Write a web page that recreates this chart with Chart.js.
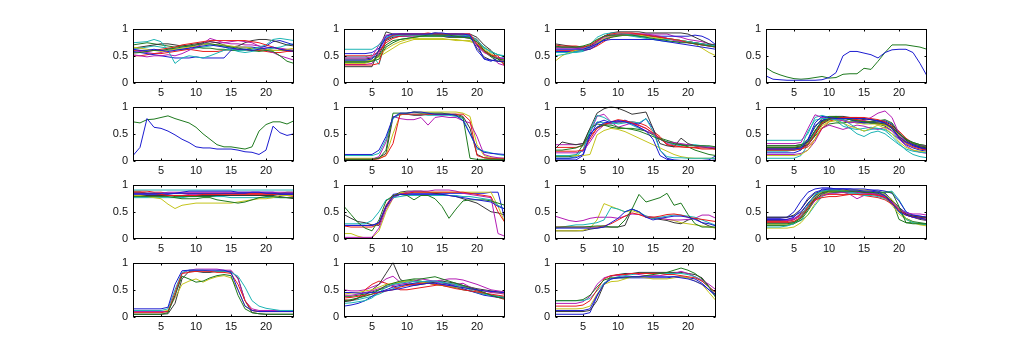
<!DOCTYPE html>
<html><head><meta charset="utf-8">
<script src="https://cdn.jsdelivr.net/npm/chart.js@4/dist/chart.umd.min.js"></script>
<style>html,body{margin:0;padding:0;background:#fff;width:1024px;height:357px;overflow:hidden}canvas{position:absolute}</style>
</head><body>
<script>
const hours=[1,2,3,4,5,6,7,8,9,10,11,12,13,14,15,16,17,18,19,20,21,22,23,24];
const xTicks=[5,10,15,20];
const yTicks=[0,0.5,1];
const lineColors=['#1c1cd0','#1f7a1f','#e81c1c','#1cb4b4','#b41cb4','#c4c41c','#383838'];

const p1=[
[.62,.6,.6,.62,.6,.58,.6,.62,.64,.66,.68,.7,.68,.66,.64,.62,.62,.6,.62,.64,.66,.62,.6,.58],
[.55,.56,.58,.6,.6,.62,.64,.66,.68,.7,.72,.72,.7,.68,.66,.64,.62,.6,.58,.6,.58,.5,.4,.36],
[.6,.6,.58,.6,.62,.64,.66,.7,.72,.74,.76,.78,.78,.78,.78,.78,.78,.76,.74,.7,.66,.62,.6,.58],
[.74,.75,.76,.8,.76,.6,.36,.46,.5,.48,.46,.5,.55,.6,.62,.6,.6,.62,.66,.7,.8,.82,.8,.78],
[.52,.5,.48,.5,.5,.52,.5,.54,.6,.66,.72,.82,.78,.74,.76,.78,.76,.74,.68,.6,.56,.5,.46,.42],
[.66,.64,.62,.6,.58,.6,.62,.64,.66,.68,.7,.72,.7,.7,.68,.66,.66,.64,.62,.62,.6,.6,.62,.64],
[.64,.66,.68,.7,.72,.72,.7,.68,.7,.72,.74,.76,.74,.7,.66,.68,.74,.78,.8,.8,.78,.74,.7,.68],
[.58,.56,.54,.52,.5,.48,.46,.46,.46,.48,.46,.46,.46,.46,.6,.66,.66,.66,.64,.68,.76,.78,.74,.7],
[.7,.72,.74,.72,.7,.68,.66,.68,.68,.66,.64,.64,.62,.62,.6,.6,.62,.64,.64,.62,.6,.6,.6,.6],
[.5,.5,.52,.54,.54,.56,.58,.6,.62,.6,.58,.58,.58,.6,.62,.62,.6,.6,.6,.58,.56,.56,.58,.58],
[.62,.64,.66,.68,.66,.64,.62,.62,.62,.64,.66,.68,.7,.66,.62,.58,.56,.58,.6,.62,.64,.66,.7,.72],
[.56,.58,.56,.54,.56,.6,.62,.62,.64,.7,.74,.76,.74,.74,.72,.72,.7,.7,.68,.66,.64,.64,.62,.6]];

const p2=[
[.42,.42,.42,.42,.44,.6,.86,.9,.9,.9,.9,.9,.9,.92,.92,.9,.9,.9,.88,.6,.45,.42,.4,.4],
[.38,.38,.38,.38,.4,.5,.7,.78,.8,.82,.84,.86,.88,.88,.88,.88,.86,.84,.82,.76,.6,.5,.44,.42],
[.33,.33,.33,.33,.33,.36,.8,.88,.9,.9,.9,.9,.92,.9,.9,.9,.9,.9,.9,.72,.58,.5,.5,.3],
[.62,.62,.62,.62,.62,.7,.84,.88,.88,.88,.88,.88,.88,.88,.88,.88,.88,.88,.86,.8,.64,.58,.52,.5],
[.46,.46,.46,.46,.48,.7,.88,.9,.9,.9,.9,.9,.9,.9,.9,.9,.9,.9,.9,.68,.56,.5,.46,.44],
[.36,.36,.36,.36,.4,.5,.62,.7,.76,.8,.82,.82,.82,.82,.82,.8,.8,.78,.78,.72,.62,.54,.46,.4],
[.3,.3,.3,.3,.3,.62,.94,.9,.9,.9,.9,.9,.9,.92,.9,.9,.9,.9,.9,.84,.7,.6,.44,.34],
[.54,.54,.54,.54,.56,.64,.82,.88,.9,.9,.9,.9,.9,.9,.88,.86,.86,.86,.86,.72,.44,.4,.46,.46],
[.4,.4,.4,.4,.4,.44,.66,.74,.8,.82,.84,.86,.86,.86,.86,.84,.84,.84,.84,.7,.58,.48,.4,.38],
[.5,.5,.5,.5,.5,.58,.74,.82,.86,.88,.88,.88,.88,.88,.88,.88,.88,.88,.86,.8,.6,.52,.46,.44],
[.48,.48,.48,.48,.52,.34,.8,.86,.88,.88,.88,.86,.86,.86,.86,.86,.86,.86,.84,.78,.66,.56,.52,.48],
[.34,.34,.34,.34,.36,.56,.8,.86,.86,.86,.86,.88,.88,.88,.86,.84,.84,.84,.82,.7,.6,.52,.36,.32],
[.4,.4,.4,.4,.42,.48,.56,.64,.72,.76,.8,.8,.8,.8,.8,.8,.78,.78,.76,.72,.66,.58,.52,.48],
[.44,.44,.44,.44,.46,.52,.78,.84,.86,.86,.88,.88,.88,.9,.9,.9,.9,.88,.86,.64,.48,.42,.4,.4]];

const p3=[
[.62,.62,.62,.62,.62,.66,.72,.78,.8,.8,.8,.8,.8,.8,.8,.78,.76,.74,.72,.7,.68,.66,.64,.62],
[.68,.66,.66,.66,.68,.72,.8,.86,.88,.88,.88,.88,.86,.84,.82,.8,.78,.76,.74,.74,.72,.7,.68,.66],
[.7,.68,.68,.68,.66,.7,.78,.86,.9,.92,.92,.92,.9,.88,.86,.84,.82,.8,.78,.74,.72,.7,.68,.66],
[.5,.52,.54,.58,.6,.7,.84,.9,.92,.92,.9,.88,.86,.84,.8,.8,.8,.8,.78,.76,.74,.72,.7,.68],
[.64,.64,.64,.64,.64,.66,.76,.84,.88,.9,.9,.9,.9,.9,.88,.86,.82,.78,.76,.74,.72,.7,.68,.66],
[.4,.5,.56,.6,.62,.66,.74,.82,.86,.88,.88,.88,.88,.86,.84,.82,.8,.8,.78,.76,.72,.64,.56,.5],
[.72,.7,.68,.66,.66,.68,.76,.86,.92,.94,.94,.94,.94,.92,.92,.92,.92,.92,.92,.9,.84,.78,.72,.68],
[.58,.58,.58,.58,.6,.62,.7,.8,.86,.88,.88,.88,.86,.86,.86,.86,.86,.86,.86,.86,.88,.86,.8,.7],
[.66,.66,.66,.66,.66,.68,.74,.8,.84,.86,.88,.88,.88,.88,.86,.84,.82,.8,.78,.76,.74,.72,.7,.7],
[.6,.6,.6,.6,.6,.62,.68,.76,.84,.88,.9,.9,.9,.88,.86,.84,.82,.8,.78,.76,.74,.72,.7,.68],
[.56,.56,.56,.56,.58,.64,.78,.86,.88,.88,.88,.86,.84,.82,.8,.78,.76,.76,.76,.76,.74,.72,.7,.68],
[.66,.66,.66,.64,.62,.64,.72,.8,.86,.88,.88,.9,.9,.9,.9,.9,.9,.86,.84,.8,.78,.76,.72,.7]];

const p4=[
[.13,.07,.06,.05,.05,.05,.05,.05,.06,.1,.19,.5,.58,.58,.55,.52,.46,.56,.61,.62,.62,.56,.36,.13],
[.28,.2,.15,.11,.08,.07,.08,.1,.12,.09,.1,.16,.17,.17,.27,.25,.4,.56,.7,.7,.7,.68,.66,.62]];

const p5=[
[.1,.25,.78,.62,.6,.55,.48,.4,.34,.26,.24,.24,.22,.22,.22,.2,.17,.16,.12,.2,.64,.52,.47,.5],
[.72,.7,.76,.77,.8,.83,.78,.74,.7,.62,.5,.4,.3,.26,.26,.24,.22,.26,.55,.67,.72,.72,.68,.74]];

const p6=[
[.12,.12,.12,.12,.12,.2,.45,.8,.88,.88,.9,.9,.88,.86,.86,.86,.84,.74,.5,.25,.16,.14,.13,.12],
[.03,.03,.03,.03,.03,.05,.2,.88,.88,.88,.9,.88,.88,.88,.88,.86,.84,.8,.05,.03,.03,.03,.03,.03],
[.02,.02,.02,.02,.02,.04,.1,.32,.86,.86,.86,.86,.86,.86,.86,.86,.86,.86,.74,.1,.06,.04,.04,.04],
[.1,.1,.1,.1,.1,.14,.4,.78,.86,.86,.86,.86,.84,.84,.84,.84,.82,.78,.5,.22,.18,.15,.12,.1],
[.03,.03,.03,.03,.03,.08,.35,.82,.78,.76,.76,.8,.66,.8,.82,.8,.8,.74,.7,.45,.12,.08,.06,.05],
[.05,.05,.05,.05,.05,.05,.1,.5,.84,.88,.9,.9,.9,.9,.9,.9,.9,.88,.82,.3,.1,.06,.05,.05],
[.04,.04,.04,.04,.04,.06,.14,.8,.86,.86,.84,.84,.86,.86,.86,.86,.86,.82,.6,.12,.06,.05,.04,.04]];

const p7=[
[.05,.05,.05,.06,.12,.5,.62,.7,.72,.74,.72,.68,.62,.55,.4,.1,.03,.01,.01,.01,.01,.01,.01,.02],
[.2,.2,.22,.24,.3,.5,.62,.66,.66,.62,.6,.58,.55,.5,.45,.4,.35,.32,.3,.28,.28,.28,.28,.26],
[.18,.18,.18,.18,.2,.4,.6,.66,.72,.76,.74,.7,.65,.6,.52,.42,.3,.28,.26,.25,.24,.22,.22,.22],
[.1,.1,.1,.12,.2,.56,.84,.8,.72,.68,.7,.72,.7,.78,.55,.2,.08,.06,.06,.05,.05,.05,.05,.05],
[.15,.15,.15,.15,.18,.35,.55,.66,.7,.74,.72,.7,.62,.55,.5,.4,.35,.34,.32,.3,.28,.26,.25,.24],
[.1,.1,.1,.1,.1,.12,.48,.56,.6,.58,.54,.48,.42,.36,.3,.24,.18,.12,.08,.06,.05,.05,.05,.05],
[.22,.35,.32,.3,.32,.6,.88,.96,1,.97,.92,.86,.88,.9,.6,.32,.28,.26,.42,.32,.28,.26,.24,.22],
[.02,.02,.02,.02,.1,.45,.7,.75,.7,.72,.75,.7,.68,.78,.6,.2,.05,.02,.01,.01,.01,.01,.02,.1],
[.08,.08,.08,.1,.3,.6,.68,.66,.62,.6,.6,.6,.58,.55,.48,.42,.38,.34,.3,.26,.2,.16,.12,.1],
[.25,.25,.25,.25,.28,.45,.6,.68,.7,.72,.72,.72,.7,.65,.55,.45,.3,.26,.26,.25,.25,.24,.24,.22],
[.05,.05,.05,.08,.2,.55,.72,.7,.68,.7,.72,.66,.6,.55,.5,.4,.35,.3,.28,.3,.3,.28,.26,.24],
[.3,.3,.3,.3,.32,.5,.82,.86,.72,.62,.66,.7,.66,.6,.5,.4,.32,.3,.3,.3,.28,.28,.26,.25]];

const p8=[
[.22,.22,.22,.22,.22,.24,.4,.7,.82,.8,.78,.78,.78,.78,.78,.76,.74,.7,.6,.45,.35,.3,.25,.22],
[.25,.25,.25,.25,.25,.28,.35,.55,.72,.78,.8,.78,.76,.74,.72,.7,.7,.68,.62,.5,.4,.32,.28,.25],
[.2,.2,.2,.2,.2,.22,.3,.5,.7,.78,.8,.8,.8,.8,.8,.78,.76,.72,.62,.45,.32,.26,.22,.2],
[.18,.18,.18,.18,.2,.24,.55,.75,.78,.78,.76,.7,.6,.5,.45,.52,.55,.5,.4,.3,.22,.18,.16,.15],
[.32,.32,.32,.32,.32,.34,.6,.85,.8,.78,.76,.74,.7,.72,.74,.8,.88,.92,.8,.5,.35,.3,.28,.27],
[.1,.1,.1,.1,.1,.12,.2,.4,.65,.72,.74,.7,.64,.6,.55,.6,.66,.6,.5,.35,.25,.2,.18,.16],
[.24,.24,.24,.24,.24,.26,.3,.48,.68,.76,.78,.8,.8,.8,.78,.76,.74,.72,.66,.52,.38,.3,.26,.24],
[.15,.15,.15,.15,.15,.2,.38,.65,.75,.78,.8,.8,.76,.72,.7,.7,.72,.7,.6,.42,.3,.24,.2,.18],
[.28,.28,.28,.28,.28,.3,.4,.62,.78,.82,.82,.8,.76,.74,.72,.72,.74,.76,.7,.52,.4,.34,.3,.28],
[.22,.22,.22,.22,.22,.22,.26,.4,.6,.72,.78,.78,.78,.76,.74,.72,.7,.68,.64,.55,.42,.32,.26,.22],
[.05,.05,.05,.05,.05,.1,.3,.55,.72,.76,.78,.76,.68,.6,.55,.58,.6,.56,.45,.32,.2,.12,.08,.06],
[.12,.12,.12,.12,.12,.14,.2,.36,.6,.66,.62,.58,.62,.66,.64,.6,.58,.62,.55,.4,.28,.2,.16,.14],
[.25,.25,.25,.25,.25,.26,.32,.5,.68,.74,.76,.74,.72,.7,.68,.68,.68,.66,.6,.48,.36,.3,.27,.25],
[.28,.28,.28,.28,.28,.3,.36,.56,.74,.8,.82,.82,.8,.78,.76,.76,.74,.7,.62,.5,.4,.34,.3,.28],
[.22,.22,.22,.22,.22,.24,.32,.55,.74,.78,.78,.76,.72,.7,.7,.72,.74,.74,.68,.5,.36,.28,.24,.2],
[.2,.2,.2,.2,.2,.22,.3,.46,.6,.68,.7,.7,.72,.72,.72,.7,.68,.64,.56,.44,.34,.28,.24,.22],
[.25,.25,.25,.25,.25,.26,.34,.52,.7,.78,.8,.8,.78,.76,.72,.7,.68,.66,.6,.5,.38,.3,.28,.26],
[.38,.38,.38,.38,.38,.38,.5,.8,.84,.8,.74,.64,.6,.58,.6,.62,.6,.58,.5,.4,.34,.3,.28,.26]];

const p9=[
[.84,.84,.84,.84,.84,.84,.84,.86,.88,.88,.88,.88,.88,.88,.88,.86,.86,.86,.86,.84,.84,.82,.82,.82],
[.78,.78,.78,.78,.78,.78,.76,.74,.74,.74,.76,.76,.72,.7,.68,.66,.68,.72,.76,.78,.78,.76,.76,.76],
[.86,.86,.84,.84,.82,.8,.8,.8,.8,.8,.82,.82,.82,.82,.82,.82,.82,.82,.82,.82,.82,.82,.82,.82],
[.9,.9,.9,.9,.9,.9,.9,.9,.9,.9,.9,.9,.9,.9,.9,.9,.9,.9,.9,.9,.9,.9,.9,.9],
[.84,.84,.84,.84,.84,.86,.86,.86,.86,.86,.86,.86,.86,.86,.86,.86,.86,.86,.86,.86,.86,.86,.86,.86],
[.8,.8,.78,.76,.74,.64,.56,.62,.64,.66,.66,.66,.66,.66,.66,.68,.7,.72,.74,.74,.76,.8,.8,.8],
[.8,.8,.8,.8,.8,.8,.8,.8,.8,.8,.8,.8,.8,.8,.8,.8,.8,.8,.8,.8,.8,.78,.76,.74],
[.82,.82,.82,.82,.82,.82,.84,.84,.84,.84,.84,.84,.84,.84,.84,.84,.84,.86,.86,.86,.86,.84,.84,.84],
[.86,.86,.84,.84,.82,.8,.78,.78,.78,.78,.78,.78,.8,.8,.8,.8,.8,.8,.8,.8,.82,.84,.86,.86],
[.88,.88,.88,.86,.86,.84,.84,.84,.84,.84,.84,.84,.84,.84,.84,.84,.84,.84,.84,.84,.84,.82,.8,.78],
[.76,.76,.76,.76,.76,.76,.76,.76,.78,.78,.78,.78,.78,.78,.76,.76,.76,.76,.76,.76,.76,.76,.76,.76],
[.8,.8,.8,.8,.8,.8,.8,.8,.82,.82,.82,.82,.82,.84,.84,.84,.84,.84,.84,.84,.84,.84,.84,.84]];

const p10=[
[.25,.25,.25,.25,.25,.3,.6,.78,.82,.82,.82,.82,.82,.82,.82,.8,.78,.76,.74,.72,.7,.68,.6,.55],
[.6,.45,.3,.2,.15,.35,.7,.8,.82,.8,.72,.8,.8,.74,.6,.38,.55,.7,.72,.72,.72,.7,.66,.62],
[.24,.22,.22,.22,.22,.28,.62,.8,.82,.84,.86,.86,.86,.86,.86,.86,.86,.86,.84,.82,.8,.78,.5,.3],
[.28,.28,.28,.28,.34,.5,.72,.76,.78,.8,.8,.8,.8,.8,.8,.8,.8,.78,.78,.76,.74,.72,.62,.55],
[.03,.03,.03,.03,.03,.2,.55,.75,.82,.86,.88,.88,.88,.9,.9,.9,.88,.84,.82,.8,.78,.76,.1,.05],
[.1,.1,.05,.02,.02,.15,.5,.75,.85,.86,.86,.86,.86,.86,.86,.86,.86,.86,.86,.86,.86,.86,.6,.3],
[.45,.38,.32,.3,.26,.25,.58,.78,.86,.88,.88,.88,.86,.84,.82,.8,.78,.74,.7,.66,.58,.5,.48,.44],
[.25,.25,.25,.25,.25,.3,.6,.82,.84,.84,.84,.84,.84,.84,.84,.84,.84,.84,.84,.84,.84,.86,.86,.35]];

const p11=[
[.2,.2,.2,.2,.2,.2,.2,.22,.3,.38,.5,.55,.5,.4,.35,.38,.4,.42,.42,.4,.36,.3,.28,.24],
[.22,.22,.22,.22,.22,.23,.24,.24,.22,.22,.35,.55,.82,.68,.72,.76,.84,.62,.66,.45,.28,.22,.22,.22],
[.22,.22,.22,.22,.22,.22,.22,.24,.28,.35,.42,.48,.45,.4,.4,.42,.45,.46,.44,.4,.38,.36,.34,.32],
[.2,.22,.24,.26,.26,.28,.3,.35,.58,.55,.5,.55,.5,.42,.38,.4,.42,.44,.44,.42,.4,.35,.3,.25],
[.42,.38,.34,.32,.34,.38,.4,.4,.4,.38,.42,.46,.45,.42,.4,.38,.36,.35,.35,.36,.38,.44,.44,.38],
[.15,.15,.15,.15,.16,.2,.35,.65,.6,.55,.5,.52,.48,.42,.4,.38,.36,.34,.3,.28,.26,.24,.22,.2],
[.15,.15,.15,.15,.15,.18,.2,.22,.22,.22,.25,.55,.5,.4,.38,.36,.34,.3,.28,.35,.38,.3,.24,.2]];

const p12=[
[.36,.36,.36,.36,.4,.55,.75,.86,.9,.92,.92,.92,.9,.9,.88,.88,.86,.8,.65,.5,.44,.4,.38,.36],
[.28,.28,.28,.28,.3,.38,.55,.75,.85,.88,.88,.88,.88,.88,.86,.86,.86,.86,.86,.6,.3,.28,.28,.28],
[.3,.3,.3,.3,.32,.4,.58,.72,.76,.78,.78,.8,.82,.82,.82,.82,.8,.76,.66,.52,.44,.4,.38,.36],
[.22,.22,.22,.24,.28,.42,.62,.82,.88,.9,.9,.88,.86,.84,.8,.8,.78,.74,.66,.5,.36,.3,.28,.26],
[.35,.35,.35,.34,.36,.42,.55,.7,.8,.84,.84,.86,.86,.86,.84,.84,.82,.78,.68,.55,.48,.46,.46,.44],
[.2,.2,.2,.2,.22,.3,.45,.65,.8,.86,.88,.9,.9,.9,.9,.88,.86,.82,.72,.55,.38,.3,.26,.24],
[.4,.4,.4,.4,.44,.55,.72,.84,.88,.9,.9,.9,.88,.86,.86,.84,.82,.78,.7,.58,.46,.42,.4,.4],
[.4,.4,.4,.4,.42,.5,.65,.8,.92,.92,.92,.92,.92,.9,.9,.9,.9,.88,.84,.7,.5,.44,.42,.4],
[.25,.25,.25,.25,.28,.35,.52,.72,.82,.86,.86,.86,.86,.86,.86,.86,.84,.8,.7,.5,.38,.32,.3,.28],
[.32,.32,.32,.32,.35,.45,.6,.74,.8,.82,.82,.82,.82,.82,.8,.78,.76,.72,.64,.52,.45,.42,.4,.38],
[.3,.3,.3,.3,.3,.34,.44,.62,.78,.84,.86,.86,.84,.84,.84,.84,.84,.86,.88,.72,.5,.42,.38,.35],
[.36,.36,.36,.36,.38,.45,.6,.76,.84,.86,.86,.86,.82,.74,.8,.82,.8,.76,.66,.54,.44,.4,.38,.34],
[.26,.26,.26,.26,.3,.4,.6,.78,.86,.88,.88,.88,.88,.86,.86,.84,.82,.76,.62,.46,.36,.3,.28,.26],
[.34,.34,.34,.34,.36,.48,.66,.8,.86,.88,.88,.88,.88,.88,.86,.84,.82,.78,.68,.55,.45,.4,.36,.34],
[.38,.38,.38,.4,.5,.7,.86,.92,.94,.94,.92,.92,.92,.92,.92,.9,.88,.84,.72,.58,.48,.44,.42,.4],
[.3,.3,.3,.3,.32,.4,.62,.8,.84,.86,.86,.86,.86,.86,.86,.86,.86,.84,.72,.36,.3,.3,.28,.26]];

const p13=[
[.15,.15,.15,.15,.15,.18,.6,.85,.86,.86,.86,.86,.86,.86,.82,.5,.2,.12,.1,.1,.1,.1,.1,.1],
[.05,.05,.05,.05,.05,.08,.4,.75,.7,.64,.66,.72,.76,.78,.76,.4,.15,.08,.06,.05,.05,.05,.05,.05],
[.08,.08,.08,.08,.08,.1,.45,.8,.82,.84,.84,.84,.82,.82,.8,.6,.3,.12,.1,.1,.1,.1,.1,.1],
[.12,.12,.12,.12,.12,.15,.5,.82,.86,.86,.86,.84,.84,.84,.82,.75,.55,.3,.2,.16,.14,.12,.12,.12],
[.1,.1,.1,.1,.1,.1,.38,.8,.86,.88,.88,.88,.88,.86,.86,.7,.3,.15,.12,.12,.12,.12,.12,.12],
[.1,.1,.1,.1,.1,.12,.35,.6,.66,.7,.64,.7,.74,.76,.72,.5,.2,.12,.1,.1,.1,.1,.1,.1],
[.05,.05,.05,.05,.05,.06,.25,.7,.84,.84,.82,.82,.84,.84,.84,.72,.3,.08,.06,.05,.05,.05,.05,.05]];

const p14=[
[.45,.45,.44,.44,.45,.46,.48,.5,.52,.55,.58,.6,.62,.62,.6,.58,.56,.54,.52,.5,.48,.47,.46,.45],
[.3,.32,.35,.38,.42,.5,.58,.62,.66,.68,.7,.7,.72,.74,.7,.66,.62,.58,.54,.5,.45,.4,.36,.34],
[.35,.36,.38,.4,.42,.45,.48,.5,.55,.58,.6,.62,.62,.6,.58,.55,.52,.5,.48,.46,.44,.42,.4,.38],
[.25,.26,.28,.3,.35,.45,.55,.6,.62,.64,.65,.65,.66,.66,.64,.62,.6,.56,.5,.45,.42,.4,.38,.36],
[.4,.4,.42,.45,.48,.52,.56,.58,.6,.62,.66,.7,.68,.65,.6,.58,.6,.62,.55,.5,.48,.45,.44,.42],
[.42,.44,.45,.48,.5,.55,.6,.62,.64,.66,.66,.64,.62,.6,.58,.56,.55,.54,.52,.5,.48,.46,.44,.42],
[.28,.3,.35,.4,.5,.6,.8,1,.7,.6,.58,.6,.62,.64,.66,.64,.62,.58,.55,.52,.5,.48,.46,.44],
[.2,.22,.25,.3,.38,.46,.5,.55,.58,.6,.62,.64,.66,.66,.64,.6,.56,.52,.48,.44,.4,.38,.36,.35],
[.38,.38,.4,.42,.46,.5,.54,.6,.64,.66,.68,.66,.62,.6,.58,.56,.54,.5,.48,.45,.42,.4,.38,.36],
[.32,.3,.34,.5,.6,.66,.62,.56,.5,.5,.52,.54,.56,.58,.6,.62,.6,.56,.52,.48,.45,.4,.36,.32],
[.3,.3,.32,.35,.38,.42,.48,.52,.56,.6,.62,.64,.64,.64,.62,.6,.58,.56,.52,.48,.44,.4,.38,.36],
[.5,.48,.48,.5,.55,.6,.7,.75,.64,.6,.6,.62,.64,.66,.68,.7,.7,.68,.64,.6,.55,.5,.48,.46]];

const p15=[
[.12,.12,.12,.12,.12,.15,.4,.6,.7,.72,.74,.74,.74,.74,.74,.74,.74,.74,.72,.7,.66,.6,.5,.4],
[.3,.3,.3,.3,.32,.4,.55,.68,.72,.72,.72,.74,.74,.76,.78,.8,.82,.86,.9,.86,.8,.7,.55,.35],
[.2,.2,.2,.2,.22,.3,.5,.7,.76,.78,.78,.8,.8,.8,.8,.8,.78,.78,.76,.74,.72,.66,.55,.45],
[.3,.3,.3,.3,.3,.34,.48,.62,.7,.74,.76,.78,.8,.8,.8,.8,.8,.8,.8,.78,.74,.66,.55,.45],
[.25,.25,.25,.25,.28,.38,.6,.72,.76,.76,.78,.8,.78,.76,.76,.76,.78,.8,.84,.8,.74,.68,.6,.5],
[.15,.15,.15,.15,.16,.2,.42,.6,.65,.66,.7,.74,.74,.72,.7,.7,.7,.72,.74,.72,.66,.6,.45,.3],
[.1,.1,.1,.1,.1,.12,.3,.6,.75,.78,.8,.8,.82,.82,.82,.82,.82,.82,.82,.8,.78,.72,.56,.4],
[.05,.05,.05,.05,.05,.08,.38,.62,.7,.72,.72,.72,.72,.72,.72,.72,.72,.74,.74,.72,.7,.62,.5,.38]];

const panels=[p1,p2,p3,p4,p5,p6,p7,p8,p9,p10,p11,p12,p13,p14,p15];

// layout (frame positions in page pixels)
const colLeft=[133,344,555,766], frameW=161;
const rowTop=[27,105,183,261], frameH=56;
const YW=40, XH=22, PT=10, PR=10;
const FONT={family:'"Liberation Sans", Arial, sans-serif',size:11};

const framePlugin={id:'frame',afterDraw(chart){
  const {ctx,chartArea:a,scales}=chart;
  ctx.save();ctx.strokeStyle='#000';ctx.lineWidth=1;
  const L=Math.round(a.left)+0.5,T=Math.round(a.top)+0.5,R=Math.round(a.right)-0.5,B=Math.round(a.bottom)-0.5;
  ctx.strokeRect(L,T,R-L,B-T);
  ctx.beginPath();
  const tl=2;
  xTicks.forEach(v=>{const px=Math.round(scales.x.getPixelForValue(v))+0.5;ctx.moveTo(px,B);ctx.lineTo(px,B-tl);ctx.moveTo(px,T);ctx.lineTo(px,T+tl);});
  yTicks.forEach(v=>{const py=Math.round(scales.y.getPixelForValue(v))+0.5;ctx.moveTo(L,py);ctx.lineTo(L+tl,py);ctx.moveTo(R,py);ctx.lineTo(R-tl,py);});
  ctx.stroke();ctx.restore();
}};

panels.forEach((series,k)=>{
  const r=Math.floor(k/4),c=k%4;
  const cv=document.createElement('canvas');
  const w=YW+frameW+PR,h=PT+frameH+XH;
  cv.width=w;cv.height=h;
  cv.style.left=(colLeft[c]-YW)+'px';cv.style.top=(rowTop[r]-PT)+'px';
  cv.style.width=w+'px';cv.style.height=h+'px';
  document.body.appendChild(cv);
  new Chart(cv,{
    type:'line',
    data:{labels:hours,datasets:series.map((d,i)=>({data:d,borderColor:lineColors[i%lineColors.length],borderWidth:1,pointRadius:0,fill:false,tension:0}))},
    options:{
      responsive:false,animation:false,devicePixelRatio:1,
      layout:{padding:{left:0,top:PT,right:PR,bottom:0}},
      plugins:{legend:{display:false},tooltip:{enabled:false}},
      events:[],
      scales:{
        x:{type:'linear',min:1,max:24,grid:{display:false,drawTicks:false},border:{display:false},
           afterBuildTicks:s=>{s.ticks=xTicks.map(v=>({value:v}));},
           afterFit:s=>{s.height=XH;},
           ticks:{padding:3,color:'#111',font:FONT,maxRotation:0,callback:v=>String(v)}},
        y:{type:'linear',min:0,max:1,grid:{display:false,drawTicks:false},border:{display:false},
           afterBuildTicks:s=>{s.ticks=yTicks.map(v=>({value:v}));},
           afterFit:s=>{s.width=YW;},
           ticks:{padding:5,color:'#111',font:FONT,callback:v=>String(v)}}
      }
    },
    plugins:[framePlugin]
  });
});
</script>
</body></html>
